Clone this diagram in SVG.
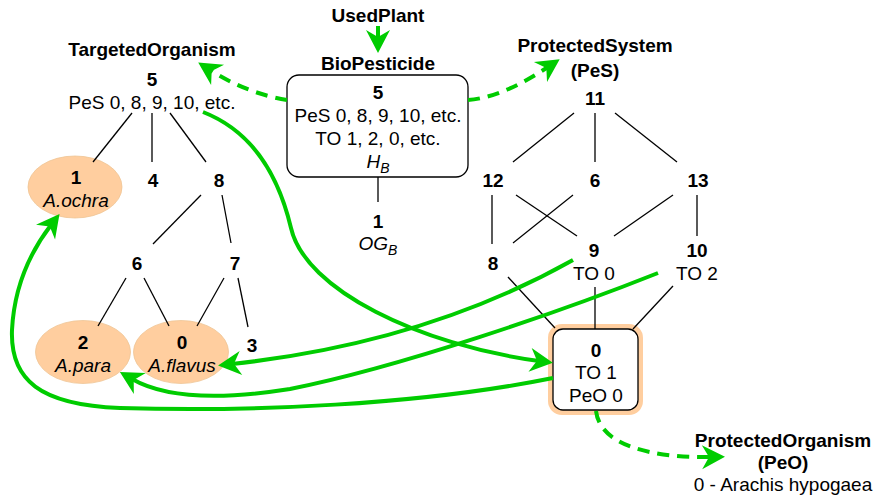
<svg xmlns="http://www.w3.org/2000/svg" width="879" height="497" viewBox="0 0 879 497">
<style>
text{font-family:"Liberation Sans",Arial,sans-serif;font-size:19px;fill:#000;text-anchor:middle}
.b{font-weight:bold}
.i{font-style:italic}
.ln{stroke:#000;stroke-width:1.3;fill:none}
.g{stroke:#00CC00;stroke-width:4;fill:none;marker-end:url(#ah)}
.d{stroke-dasharray:12 8}
.ell{fill:#FFCE9F;stroke:#EFC595;stroke-width:0.8}
</style>
<defs>
<marker id="ah" markerUnits="userSpaceOnUse" viewBox="-24 -13 26 26" markerWidth="26" markerHeight="26" refX="-14" refY="0" orient="auto">
<path d="M0,0 L-23,-12 L-16,0 L-23,12 Z" fill="#00CC00"/>
</marker>
</defs>
<rect width="879" height="497" fill="#fff"/>

<g id="label-usedplant"><text class="b" x="378" y="22">UsedPlant</text></g>
<g id="biopesticide">
<text class="b" x="378" y="70">BioPesticide</text>
<rect x="287" y="75" width="181" height="102" rx="12" fill="#fff" stroke="#000" stroke-width="1.3"/>
<text class="b" x="378" y="99">5</text>
<text x="378" y="122">PeS 0, 8, 9, 10, etc.</text>
<text x="378" y="145">TO 1, 2, 0, etc.</text>
<text class="i" x="378" y="168">H<tspan font-size="14" dy="5">B</tspan></text>
</g>
<g id="og-1">
<text class="b" x="378" y="228">1</text>
<text class="i" x="378" y="250">OG<tspan font-size="14" dy="5">B</tspan></text>
</g>

<g id="targeted-organism">
<text class="b" x="152" y="56">TargetedOrganism</text>
<text class="b" x="152" y="86">5</text>
<text x="152" y="109">PeS 0, 8, 9, 10, etc.</text>
</g>
<g id="to-1"><ellipse class="ell" cx="75" cy="187" rx="47" ry="31"/><text class="b" x="76" y="184">1</text><text class="i" x="76" y="207">A.ochra</text></g>
<g id="to-4"><text class="b" x="153" y="187">4</text></g>
<g id="to-8"><text class="b" x="219" y="187">8</text></g>
<g id="to-6"><text class="b" x="137" y="270">6</text></g>
<g id="to-7"><text class="b" x="235" y="270">7</text></g>
<g id="to-2"><ellipse class="ell" cx="83" cy="352" rx="47.5" ry="31.5"/><text class="b" x="83" y="349">2</text><text class="i" x="83" y="372">A.para</text></g>
<g id="to-0"><ellipse class="ell" cx="181" cy="352" rx="47.5" ry="31.5"/><text class="b" x="182" y="349">0</text><text class="i" x="182" y="372">A.flavus</text></g>
<g id="to-3"><text class="b" x="252" y="352">3</text></g>

<g id="protected-system">
<text class="b" x="595" y="52">ProtectedSystem</text>
<text class="b" x="595" y="77">(PeS)</text>
</g>
<g id="ps-11"><text class="b" x="595" y="105">11</text></g>
<g id="ps-12"><text class="b" x="493" y="187">12</text></g>
<g id="ps-6"><text class="b" x="595" y="187">6</text></g>
<g id="ps-13"><text class="b" x="698" y="187">13</text></g>
<g id="ps-8"><text class="b" x="493" y="270">8</text></g>
<g id="ps-9"><text class="b" x="594" y="257">9</text><text x="594" y="280">TO 0</text></g>
<g id="ps-10"><text class="b" x="697" y="257">10</text><text x="697" y="280">TO 2</text></g>
<g id="ps-0">
<rect x="548" y="324" width="95" height="91" rx="14" fill="#FFCE9F"/>
<rect x="553" y="329" width="85" height="81" rx="10" fill="#fff" stroke="#000" stroke-width="1.3"/>
<text class="b" x="596" y="357">0</text>
<text x="596" y="379">TO 1</text>
<text x="596" y="402">PeO 0</text>
</g>
<g id="protected-organism">
<text class="b" x="783" y="447">ProtectedOrganism</text>
<text class="b" x="783" y="469">(PeO)</text>
<text x="783" y="491">0 - Arachis hypogaea</text>
</g>

<g id="connectors">
<g class="lines">
<line class="ln" x1="378" y1="177" x2="378" y2="202"/>
<line class="ln" x1="132" y1="113" x2="93" y2="162"/>
<line class="ln" x1="152" y1="113" x2="152" y2="162"/>
<line class="ln" x1="170" y1="113" x2="206" y2="162"/>
<line class="ln" x1="201" y1="195" x2="153" y2="244"/>
<line class="ln" x1="222" y1="195" x2="231" y2="243"/>
<line class="ln" x1="126" y1="278" x2="98" y2="326"/>
<line class="ln" x1="144" y1="278" x2="169" y2="326"/>
<line class="ln" x1="224" y1="278" x2="197" y2="326"/>
<line class="ln" x1="238" y1="278" x2="248" y2="327"/>
<line class="ln" x1="574" y1="113" x2="513" y2="162"/>
<line class="ln" x1="595" y1="113" x2="595" y2="162"/>
<line class="ln" x1="615" y1="113" x2="677" y2="162"/>
<line class="ln" x1="492" y1="195" x2="492" y2="244"/>
<line class="ln" x1="516" y1="195" x2="577" y2="236"/>
<line class="ln" x1="573" y1="195" x2="513" y2="243"/>
<line class="ln" x1="673" y1="195" x2="614" y2="236"/>
<line class="ln" x1="697" y1="195" x2="697" y2="236"/>
<line class="ln" x1="508" y1="277" x2="555" y2="328"/>
<line class="ln" x1="595" y1="287" x2="595" y2="329"/>
<line class="ln" x1="673" y1="286" x2="633" y2="329"/>
</g>
<g class="arrows">
<path class="g" d="M378,26 L378,39"/>
<path class="g d" d="M287,100 C 262,96 235,86 210,70"/>
<path class="g d" d="M468,100 C 495,98 522,84 548,67"/>
<path class="g d" d="M596,411 C 600,445 650,458 711,457"/>
<path class="g" d="M203,112 C 262,135 282,190 291,228 C 305,290 420,345 539,361"/>
<path class="g" d="M573,260 Q 425,343 232,364"/>
<path class="g" d="M658,273 C 560,312 400,367 290,389 C 220,400 165,398 132,379"/>
<path class="g" d="M553,378 C 420,405 250,412 120,408 C 40,405 10,380 12,330 C 14,290 28,255 51,225"/>
</g>
</g>
</svg>
